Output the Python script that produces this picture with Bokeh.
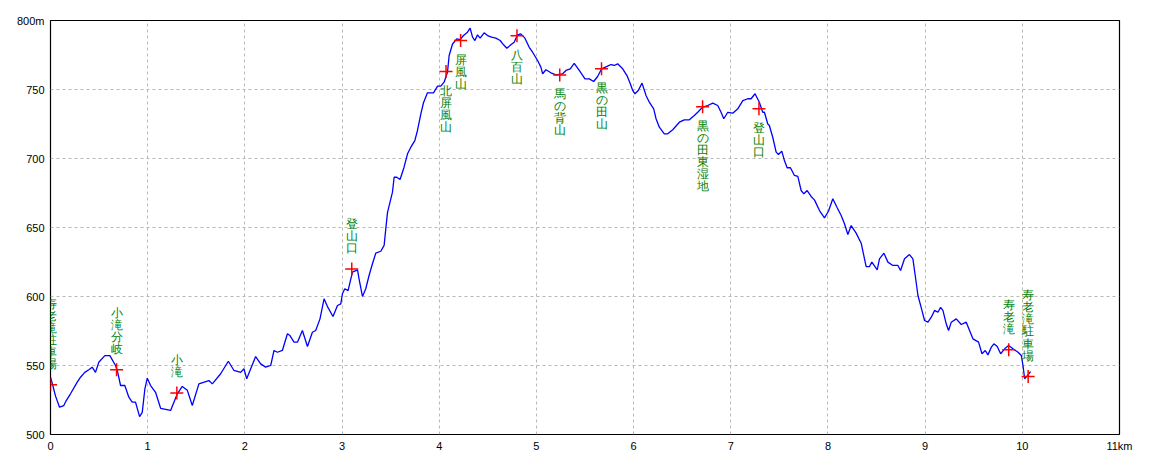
from bokeh.plotting import figure
from bokeh.models import ColumnDataSource, FixedTicker, Range1d, LabelSet
from bokeh.embed import file_html
from bokeh.resources import INLINE

# distance (km) and elevation (m) along the route
dist_km = [0, 0.024, 0.051, 0.093, 0.137, 0.162, 0.206, 0.275, 0.309, 0.353, 0.394, 0.429, 0.463, 0.497,
           0.559, 0.611, 0.669, 0.687, 0.721, 0.765, 0.806, 0.841, 0.875, 0.917, 0.944, 0.971, 0.996,
           1.030, 1.081, 1.133, 1.236, 1.305, 1.356, 1.408, 1.459, 1.527, 1.630, 1.665, 1.751, 1.830,
           1.888, 1.957, 1.991, 2.019, 2.060, 2.111, 2.163, 2.214, 2.266, 2.300, 2.335, 2.386, 2.438,
           2.464, 2.506, 2.541, 2.592, 2.644, 2.695, 2.729, 2.773, 2.815, 2.850, 2.907, 2.953, 2.987,
           3.004, 3.028, 3.062, 3.107, 3.159, 3.175, 3.210, 3.244, 3.278, 3.313, 3.347, 3.399, 3.433,
           3.450, 3.468, 3.519, 3.536, 3.563, 3.597, 3.638, 3.674, 3.708, 3.749, 3.776, 3.811, 3.838,
           3.879, 3.941, 3.983, 4.016, 4.050, 4.085, 4.102, 4.137, 4.181, 4.215, 4.250, 4.291, 4.318,
           4.343, 4.367, 4.394, 4.421, 4.462, 4.497, 4.539, 4.583, 4.627, 4.662, 4.696, 4.737, 4.771,
           4.806, 4.840, 4.882, 4.926, 4.961, 5.012, 5.046, 5.064, 5.098, 5.149, 5.201, 5.270, 5.304,
           5.348, 5.389, 5.441, 5.500, 5.544, 5.589, 5.630, 5.671, 5.726, 5.767, 5.801, 5.836, 5.888,
           5.932, 5.966, 5.991, 6.014, 6.048, 6.087, 6.128, 6.162, 6.207, 6.231, 6.265, 6.316, 6.351,
           6.403, 6.471, 6.522, 6.574, 6.625, 6.660, 6.711, 6.763, 6.815, 6.866, 6.900, 6.928, 6.969,
           7.021, 7.072, 7.124, 7.175, 7.209, 7.250, 7.294, 7.329, 7.346, 7.381, 7.397, 7.432, 7.467,
           7.490, 7.525, 7.552, 7.580, 7.614, 7.655, 7.690, 7.724, 7.752, 7.786, 7.827, 7.861, 7.913,
           7.964, 8.005, 8.050, 8.095, 8.136, 8.170, 8.205, 8.239, 8.290, 8.342, 8.393, 8.427, 8.452,
           8.507, 8.530, 8.576, 8.617, 8.668, 8.720, 8.747, 8.788, 8.839, 8.874, 8.898, 8.926, 8.967,
           8.994, 9.029, 9.063, 9.097, 9.132, 9.159, 9.183, 9.217, 9.241, 9.269, 9.320, 9.372, 9.423,
           9.457, 9.492, 9.550, 9.585, 9.619, 9.646, 9.681, 9.708, 9.742, 9.777, 9.818, 9.859, 9.904,
           9.956, 9.990, 10.007, 10.024, 10.052, 10.085]
elev_m = [541.5, 535.5, 528.0, 519.8, 521.0, 524.6, 529.5, 537.9, 541.5, 545.0, 546.9, 548.8, 545.0, 552.4,
          557.2, 557.2, 550.0, 546.4, 535.5, 535.5, 527.0, 523.4, 523.4, 513.0, 516.0, 533.0, 540.8,
          535.5, 530.6, 519.0, 517.4, 529.5, 534.8, 532.0, 521.0, 536.7, 539.1, 536.7, 544.0, 553.1,
          546.4, 545.0, 547.6, 540.4, 547.6, 556.5, 551.2, 548.8, 550.0, 560.9, 559.6, 560.9, 573.0,
          571.7, 566.9, 566.9, 575.4, 563.8, 574.1, 575.4, 583.8, 598.3, 592.7, 585.5, 593.5, 594.7,
          602.0, 605.6, 604.3, 617.6, 619.3, 612.8, 600.0, 605.6, 615.2, 623.7, 631.4, 632.8, 637.0,
          649.0, 661.0, 675.6, 686.4, 686.4, 684.8, 693.7, 703.4, 708.2, 713.0, 720.3, 732.4, 740.4,
          747.6, 747.6, 752.4, 752.4, 755.3, 762.5, 774.6, 783.0, 786.7, 786.2, 789.1, 791.5, 794.4,
          787.9, 785.5, 789.6, 787.2, 791.1, 789.1, 787.9, 787.2, 785.5, 782.4, 779.9, 782.4, 784.3,
          789.6, 790.3, 787.2, 780.6, 777.0, 771.0, 766.2, 761.4, 764.3, 762.1, 760.6, 761.4, 763.8,
          765.0, 769.0, 763.8, 757.7, 757.7, 755.8, 759.4, 765.0, 766.7, 768.1, 767.4, 768.6, 765.0,
          760.1, 754.1, 749.3, 746.9, 749.3, 754.6, 745.7, 740.8, 736.0, 728.8, 722.7, 717.9, 717.9,
          720.8, 726.3, 728.0, 728.0, 731.2, 733.5, 737.2, 738.4, 740.1, 738.4, 733.5, 728.8, 733.5,
          732.8, 736.0, 742.0, 743.3, 743.3, 746.9, 740.8, 733.5, 733.5, 725.0, 723.9, 715.4, 704.6,
          702.9, 705.3, 698.5, 693.3, 693.3, 687.7, 687.0, 676.8, 674.4, 676.8, 672.5, 670.0, 662.3,
          657.0, 661.8, 670.8, 664.3, 658.7, 652.7, 644.9, 651.4, 645.9, 638.6, 621.7, 621.7, 624.9,
          619.3, 627.3, 631.4, 624.9, 622.5, 622.5, 618.8, 627.3, 630.4, 627.3, 615.2, 600.7, 589.9,
          582.6, 581.4, 585.0, 589.9, 588.6, 592.2, 589.9, 580.2, 575.4, 581.4, 583.8, 579.7, 581.4,
          575.4, 569.3, 566.9, 558.5, 560.9, 557.7, 563.3, 565.7, 563.8, 558.5, 562.1, 564.5, 562.1,
          559.6, 557.2, 550.0, 540.4, 542.7, 545.6]

# waypoints
wp_names = ["寿老滝駐車場", "小滝分岐", "小滝", "登山口", "北屏風山", "屏風山", "八百山", "馬の背山",
            "黒の田山", "黒の田東湿地", "登山口", "寿老滝", "寿老滝駐車場"]
wp_km = [0.0, 0.68, 1.30, 3.10, 4.07, 4.22, 4.80, 5.24, 5.67, 6.71, 7.29, 9.86, 10.06]
wp_elev = [536.0, 547.0, 530.0, 620.0, 763.0, 785.5, 789.0, 760.5, 765.0, 737.5, 736.0, 561.5, 542.0]
wp_side = ["above", "above", "above", "above", "below", "below", "below", "below",
           "below", "below", "below", "above", "above"]

x_ticks = list(range(0, 12))
x_tick_labels = [str(t) for t in x_ticks[:-1]] + ["11km"]
y_ticks = list(range(500, 801, 50))
y_tick_labels = [str(t) for t in y_ticks[:-1]] + ["800m"]

p = figure(width=1160, height=464, output_backend="svg", toolbar_location=None,
           x_range=Range1d(0, 11), y_range=Range1d(500, 800),
           min_border_left=50, min_border_right=41, min_border_top=20, min_border_bottom=30)
p.background_fill_color = "white"
p.border_fill_color = "white"
p.outline_line_color = "black"
p.outline_line_width = 1.2

for ax in (p.xaxis, p.yaxis):
    ax.axis_line_color = None
    ax.major_tick_line_color = None
    ax.minor_tick_line_color = None
    ax.major_tick_out = 0
    ax.major_tick_in = 0
    ax.major_label_text_font = "Liberation Sans"
    ax.major_label_text_font_size = "11px"
    ax.major_label_text_color = "black"

p.xaxis.ticker = FixedTicker(ticks=x_ticks)
p.yaxis.ticker = FixedTicker(ticks=y_ticks)
p.xaxis.major_label_overrides = {t: l for t, l in zip(x_ticks, x_tick_labels)}
p.yaxis.major_label_overrides = {t: l for t, l in zip(y_ticks, y_tick_labels)}
p.xaxis.major_label_standoff = 5
p.yaxis.major_label_standoff = 6

p.grid.grid_line_color = "#b8b8b8"
p.grid.grid_line_dash = "3 3"
p.grid.grid_line_width = 1

p.line(dist_km, elev_m, line_color="#0000ff", line_width=1.3)

p.scatter(wp_km, wp_elev, marker="cross", size=13, line_color="#ff0000", line_width=1.5)

def vert(s):
    return "\n".join(list(s))

above = [i for i, s in enumerate(wp_side) if s == "above"]
below = [i for i, s in enumerate(wp_side) if s == "below"]

src_a = ColumnDataSource(dict(x=[wp_km[i] for i in above], y=[wp_elev[i] for i in above],
                              t=[vert(wp_names[i]) for i in above]))
src_b = ColumnDataSource(dict(x=[wp_km[i] for i in below], y=[wp_elev[i] for i in below],
                              t=[vert(wp_names[i]) for i in below]))

common = dict(x="x", y="y", text="t", text_font="Noto Sans CJK JP", text_font_size="12px",
              text_color="#008000", text_align="center", text_line_height=0.86)
p.add_layout(LabelSet(source=src_a, text_baseline="bottom", y_offset=14, **common))
p.add_layout(LabelSet(source=src_b, text_baseline="top", y_offset=-12, **common))

open("out.html", "w").write(file_html(p, INLINE))
